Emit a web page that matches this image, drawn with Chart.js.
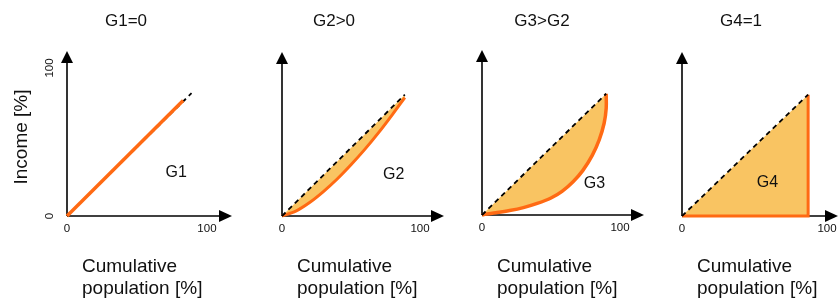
<!DOCTYPE html>
<html><head><meta charset="utf-8">
<script src="https://cdn.jsdelivr.net/npm/chart.js@4"></script>
<style>
html,body{margin:0;padding:0;background:#fff;}
#wrap{position:relative;width:838px;height:300px;overflow:hidden;background:#fff;}
.p{position:absolute;top:0;height:300px;}
canvas{display:block;}
</style></head><body>
<div id="wrap">
<div class="p" style="left:0px;width:240px"><canvas id="c0" width="240" height="300"></canvas></div>
<div class="p" style="left:240px;width:210px"><canvas id="c1" width="210" height="300"></canvas></div>
<div class="p" style="left:450px;width:200px"><canvas id="c2" width="200" height="300"></canvas></div>
<div class="p" style="left:650px;width:188px"><canvas id="c3" width="188" height="300"></canvas></div>
</div>
<script>
// ---- data ----
const panelTitles = ['G1=0', 'G2>0', 'G3>G2', 'G4=1'];
const areaLabels = ['G1', 'G2', 'G3', 'G4'];
const xTicks = [0, 100];
const yTicks = [0, 100];
const xAxisTitle = ['Cumulative', 'population [%]'];
const yAxisTitle = 'Income [%]';

// line of equality (dashed) per panel
const equalityX1 = [0, 89], equalityY1 = [0, 83];
const equalityX2 = [0, 89], equalityY2 = [0, 82];
const equalityX3 = [0, 90], equalityY3 = [0, 82];
const equalityX4 = [0, 87], equalityY4 = [0, 82];

// Lorenz curves (orange) per panel
const lorenzX1 = [0, 83];
const lorenzY1 = [0, 78];
const lorenzX2 = [0, 10, 20, 30, 40, 50, 60, 70, 80, 89];
const lorenzY2 = [0, 3.3, 9.1, 16.5, 25, 34.6, 45, 56.3, 68.5, 80];
const lorenzX3 = [0, 2, 10, 20, 30, 40, 50, 58, 66, 73, 80, 85, 88.5, 90, 90];
const lorenzY3 = [0, 0.5, 1.5, 3, 5, 7.8, 11.5, 16, 22.5, 30, 40.5, 51, 62, 72, 82];
const lorenzX4 = [0, 87, 87];
const lorenzY4 = [0, 0, 82];

// ---- layout / style ----
const ORANGE = '#ff6a13';
const FILL = '#f9c462';
const FONT = "'Liberation Sans', Arial, Helvetica, sans-serif";

const panels = [
  {id:'c0', left:0,   width:240, ox:67,  oy:216, tipX:232, tipY:51, xMax:117.9, yMax:111.5,
   eqX:equalityX1, eqY:equalityY1, lzX:lorenzX1, lzY:lorenzY1, fill:false, lorenzOnTop:true, lw:3.5,
   titleX:126, labelAt:[78, 29], yLabels:true, xLabels:true},
  {id:'c1', left:240, width:210, ox:282, oy:216, tipX:444, tipY:52, xMax:117.4, yMax:110.8,
   eqX:equalityX2, eqY:equalityY2, lzX:lorenzX2, lzY:lorenzY2, fill:true, lorenzOnTop:false, lw:3,
   titleX:334, labelAt:[81, 28], yLabels:false, xLabels:true},
  {id:'c2', left:450, width:200, ox:482, oy:215, tipX:644, tipY:50, xMax:117.4, yMax:111.5,
   eqX:equalityX3, eqY:equalityY3, lzX:lorenzX3, lzY:lorenzY3, fill:true, lorenzOnTop:false, lw:3.5,
   titleX:542, labelAt:[81.5, 21], yLabels:false, xLabels:true},
  {id:'c3', left:650, width:188, ox:682, oy:216, tipX:838, tipY:52, xMax:107.6, yMax:110.8,
   eqX:equalityX4, eqY:equalityY4, lzX:lorenzX4, lzY:lorenzY4, fill:true, lorenzOnTop:false, lw:3,
   titleX:741, labelAt:[59, 22.3], yLabels:false, xLabels:true}
];

function pts(xs, ys) { return xs.map((x, i) => ({x: x, y: ys[i]})); }

panels.forEach((P, idx) => {
  const decor = {
    id: 'decor' + idx,
    beforeDatasetsDraw(chart) {
      const ctx = chart.ctx, a = chart.chartArea;
      const x0 = chart.scales.x.getPixelForValue(0);
      const y0 = chart.scales.y.getPixelForValue(0);
      ctx.save();
      ctx.strokeStyle = '#000'; ctx.fillStyle = '#000'; ctx.lineWidth = 1.6;
      // x axis
      ctx.beginPath(); ctx.moveTo(x0, y0); ctx.lineTo(a.right - 10, y0); ctx.stroke();
      ctx.beginPath(); ctx.moveTo(a.right, y0); ctx.lineTo(a.right - 13, y0 - 6); ctx.lineTo(a.right - 13, y0 + 6); ctx.closePath(); ctx.fill();
      // y axis
      ctx.beginPath(); ctx.moveTo(x0, y0); ctx.lineTo(x0, a.top + 10); ctx.stroke();
      ctx.beginPath(); ctx.moveTo(x0, a.top); ctx.lineTo(x0 - 6, a.top + 12); ctx.lineTo(x0 + 6, a.top + 12); ctx.closePath(); ctx.fill();
      ctx.restore();
    },
    afterDraw(chart) {
      const ctx = chart.ctx;
      const sx = chart.scales.x, sy = chart.scales.y;
      const x0 = sx.getPixelForValue(0), y0 = sy.getPixelForValue(0);
      const L = P.left;
      ctx.save();
      ctx.fillStyle = '#111';
      // title
      ctx.font = '17px ' + FONT; ctx.textAlign = 'center'; ctx.textBaseline = 'alphabetic';
      ctx.fillText(panelTitles[idx], P.titleX - L, 26);
      // area label
      ctx.font = '16px ' + FONT; ctx.textBaseline = 'middle';
      ctx.fillText(areaLabels[idx], sx.getPixelForValue(P.labelAt[0]), sy.getPixelForValue(P.labelAt[1]));
      // x tick labels
      ctx.font = '11.5px ' + FONT; ctx.textAlign = 'center'; ctx.textBaseline = 'middle';
      if (P.xLabels) xTicks.forEach(v => ctx.fillText(String(v), sx.getPixelForValue(v), y0 + 13));
      // y tick labels (rotated)
      if (P.yLabels) yTicks.forEach(v => {
        ctx.save(); ctx.translate(x0 - 17, sy.getPixelForValue(v)); ctx.rotate(-Math.PI / 2);
        ctx.fillText(String(v), 0, 0); ctx.restore();
      });
      // x axis title (left aligned, two lines)
      ctx.font = '19px ' + FONT; ctx.textAlign = 'left'; ctx.textBaseline = 'alphabetic';
      ctx.fillText(xAxisTitle[0], x0 + 15, 272);
      ctx.fillText(xAxisTitle[1], x0 + 15, 294);
      // y axis title
      if (P.yLabels) {
        ctx.save(); ctx.translate(22 - L, 137); ctx.rotate(-Math.PI / 2);
        ctx.textAlign = 'center'; ctx.textBaseline = 'middle';
        ctx.fillText(yAxisTitle, 0, 0); ctx.restore();
      }
      ctx.restore();
    }
  };

  const datasets = [
    {label: 'Equality', data: pts(P.eqX, P.eqY), showLine: true, borderColor: '#000', borderWidth: 1.8,
     borderDash: [5, 4], pointRadius: 0, fill: false, tension: 0, order: P.lorenzOnTop ? 1 : 0, clip: false},
    {label: 'Lorenz', data: pts(P.lzX, P.lzY), showLine: true, borderColor: ORANGE, borderWidth: P.lw,
     pointRadius: 0, backgroundColor: FILL, fill: P.fill ? 0 : false,
     tension: idx === 2 ? 0.35 : (idx === 1 ? 0.3 : 0), order: P.lorenzOnTop ? 0 : 1, clip: false,
     borderCapStyle: 'butt', borderJoinStyle: 'miter'}
  ];

  new Chart(document.getElementById(P.id), {
    type: 'scatter',
    data: {datasets: datasets},
    options: {
      responsive: false, animation: false, events: [],
      layout: {padding: {left: P.ox - P.left, right: P.left + P.width - P.tipX, top: P.tipY, bottom: 300 - P.oy}},
      scales: {
        x: {type: 'linear', min: 0, max: P.xMax, display: false},
        y: {type: 'linear', min: 0, max: P.yMax, display: false}
      },
      plugins: {legend: {display: false}, tooltip: {enabled: false}, title: {display: false},
                filler: {drawTime: 'beforeDatasetsDraw', propagate: false}}
    },
    plugins: [decor]
  });
});
</script>
</body></html>
